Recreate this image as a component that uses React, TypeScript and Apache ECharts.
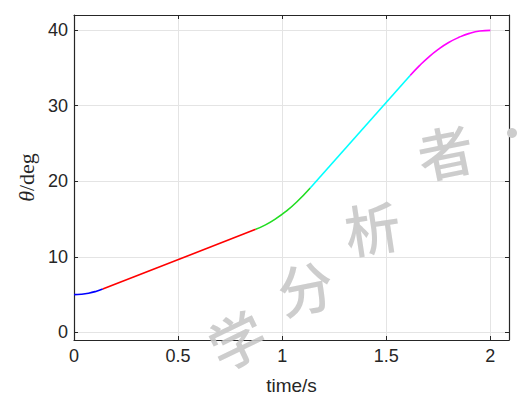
import React, { useEffect, useRef } from "react";
import * as echarts from "echarts";

// Trajectory segments: [time (s), angle (deg)]
const blueSeg: [number, number][] = [
  [0, 5.0], [0.035, 5.05], [0.07, 5.19], [0.105, 5.43], [0.138, 5.74],
];
const redSeg: [number, number][] = [
  [0.138, 5.74], [0.873, 13.64],
];
const greenSeg: [number, number][] = [
  [0.873, 13.64], [0.92, 14.23], [0.97, 15.05], [1.02, 16.06], [1.07, 17.26], [1.135, 19.12],
];
const cyanSeg: [number, number][] = [
  [1.135, 19.12], [1.615, 34.0],
];
const magentaSeg: [number, number][] = [
  [1.615, 34.0], [1.66, 35.3], [1.7, 36.34], [1.75, 37.45], [1.8, 38.36], [1.85, 39.05], [1.9, 39.57], [1.95, 39.88], [2.0, 39.97],
];

const xTicks = [0, 0.5, 1, 1.5, 2];
const yTicks = [0, 10, 20, 30, 40];
const xTickLabels = ["0", "0.5", "1", "1.5", "2"];
const yTickLabels = ["0", "10", "20", "30", "40"];
const xName = "time/s";
const watermarkChars = ["学", "分", "析", "者"];

const AXIS_COLOR = "#262626";
const GRID_COLOR = "#e4e4e4";
const FONT = "'Liberation Sans', Arial, Helvetica, sans-serif";

export default function App() {
  const ref = useRef<HTMLDivElement>(null);
  useEffect(() => {
    if (!ref.current) return;
    const chart = echarts.init(ref.current, undefined, { renderer: "svg" });

    const frameAxis = (pos: string, labels: boolean, split: boolean, ticks: number[], tickLabels: string[], margin: number) => ({
      type: "value" as const,
      position: pos,
      axisLine: { show: true, onZero: false, lineStyle: { color: AXIS_COLOR, width: 1.2 } },
      axisTick: { show: true, inside: true, length: 4, customValues: ticks, lineStyle: { color: AXIS_COLOR } },
      axisLabel: labels
        ? {
            show: true,
            customValues: ticks,
            color: AXIS_COLOR,
            fontSize: 18,
            fontFamily: FONT,
            margin,
            formatter: (v: number) => {
              const i = ticks.findIndex((t) => Math.abs(t - v) < 1e-6);
              return i >= 0 ? tickLabels[i] : "";
            },
          }
        : { show: false },
      splitLine: { show: split, lineStyle: { color: GRID_COLOR, width: 1 } },
    });

    const mkSeries = (data: [number, number][], color: string, smooth: boolean) => ({
      type: "line" as const,
      data,
      showSymbol: false,
      smooth,
      lineStyle: { color, width: 1.6 },
      itemStyle: { color },
      z: 5,
    });

    const wmStyle = { fill: "#c8c8c8", font: "500 56px 'Noto Sans CJK SC'" };
    const wmPos: [number, number, number][] = [
      [236, 338, 0.45],
      [305, 286, 0.2],
      [372, 226, 0.15],
      [445, 150, 0.2],
    ];

    chart.setOption({
      animation: false,
      grid: { left: 74, right: 9, top: 15, bottom: 57, containLabel: false },
      xAxis: [
        {
          ...frameAxis("bottom", true, true, xTicks, xTickLabels, 7),
          min: 0,
          max: 2.09,
          name: xName,
          nameLocation: "middle",
          nameGap: 36,
          nameTextStyle: { color: AXIS_COLOR, fontSize: 19, fontFamily: FONT },
        },
        {
          ...frameAxis("top", false, false, xTicks, xTickLabels, 7),
          min: 0,
          max: 2.09,
        },
      ],
      yAxis: [
        {
          ...frameAxis("left", true, true, yTicks, yTickLabels, 6),
          min: -1,
          max: 42,
          name: "{i|θ}{n|/deg}",
          nameLocation: "middle",
          nameGap: 36,
          nameRotate: 90,
          nameTextStyle: {
            rich: {
              i: { fontFamily: "'Liberation Serif', serif", fontStyle: "italic", fontSize: 22, color: AXIS_COLOR },
              n: { fontFamily: "'Liberation Serif', serif", fontSize: 22, color: AXIS_COLOR },
            },
          },
        },
        {
          ...frameAxis("right", false, false, yTicks, yTickLabels, 6),
          min: -1,
          max: 42,
        },
      ],
      series: [
        mkSeries(blueSeg, "#0000ff", true),
        mkSeries(redSeg, "#ff0000", false),
        mkSeries(greenSeg, "#22dd22", true),
        mkSeries(cyanSeg, "#00ffff", false),
        mkSeries(magentaSeg, "#ff00ff", true),
      ],
      graphic: [
        ...watermarkChars.map((ch, i) => ({
          type: "text",
          x: wmPos[i][0],
          y: wmPos[i][1],
          rotation: wmPos[i][2],
          z: 100,
          silent: true,
          style: { text: ch, ...wmStyle, textAlign: "center", textVerticalAlign: "middle", opacity: 0.9 },
        })),
        {
          type: "circle",
          shape: { cx: 512, cy: 133, r: 5 },
          style: { fill: "#cccccc" },
          z: 100,
          silent: true,
        },
      ],
    });

    return () => chart.dispose();
  }, []);

  return <div ref={ref} style={{ width: 518, height: 400, position: "absolute", left: 0, top: 0 }} />;
}
